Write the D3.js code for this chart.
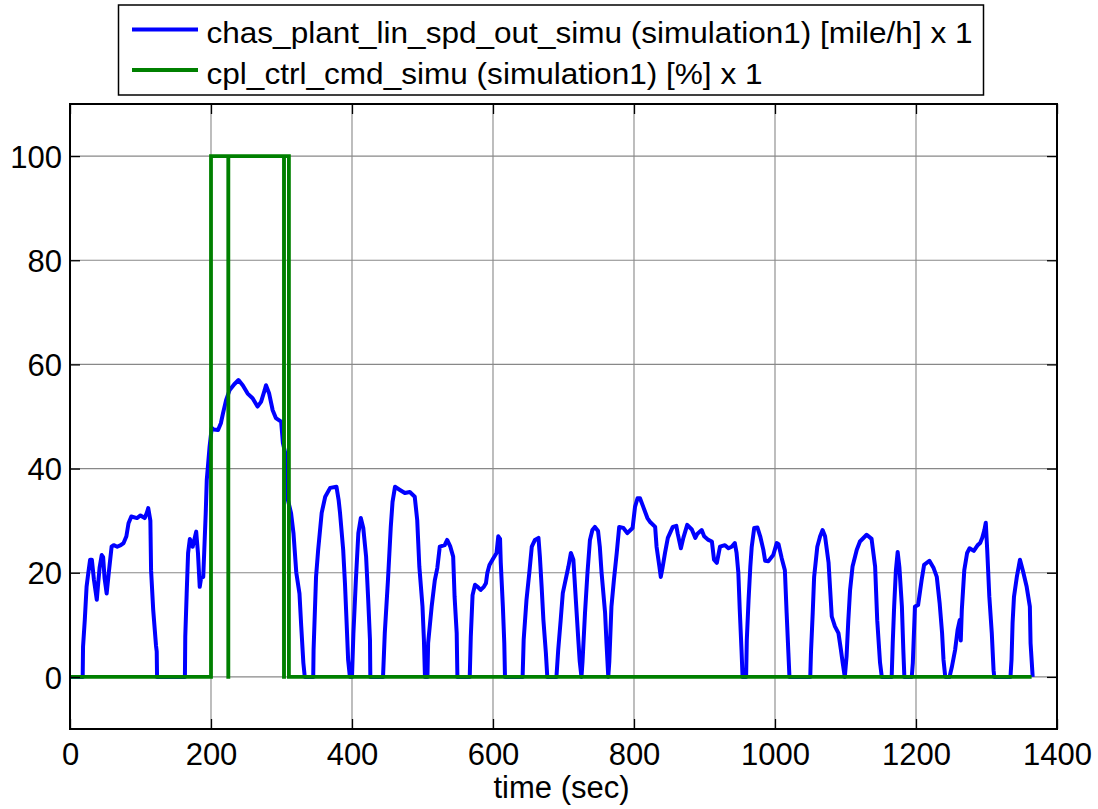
<!DOCTYPE html>
<html>
<head>
<meta charset="utf-8">
<script src="https://cdn.jsdelivr.net/npm/d3@7"></script>
<style>
  html, body { margin: 0; padding: 0; background: #ffffff; }
  svg { display: block; }
  text { font-family: "Liberation Sans", Arial, sans-serif; }
</style>
</head>
<body>
<svg id="chart" width="1098" height="809"></svg>
<script>
// ---- data ----
const xTicks = [0, 200, 400, 600, 800, 1000, 1200, 1400];
const yTicks = [0, 20, 40, 60, 80, 100];
const xLabel = "time (sec)";
const seriesNames = [
  "chas_plant_lin_spd_out_simu (simulation1) [mile/h] x 1",
  "cpl_ctrl_cmd_simu (simulation1) [%] x 1"
];
const seriesColors = ["#0000ff", "#008000"];

// chas_plant_lin_spd_out_simu: [time, value]
const speedData = [
[0,0],[18,0],[18.5,5.8],[21,11],[23.5,17.3],[26,20],[28.5,22.5],[31,22.5],[34,18.6],[38,14.8],[40,18],[42,21],[45,23.4],[47,23],[49,19],[52,16],[55,20],[59,25],[62,25.3],[67,25],[72,25.3],[76,25.7],[80,27],[83,29.5],[87,30.8],[95,30.5],[100,31],[106,30.5],[109,31.5],[111,32.4],[114,30],[115,20.5],[118,12.9],[122,6],[123,4.9],[123.5,0],
[163,0],[163.5,7.7],[165.5,16],[167.5,23.8],[170,26.5],[174,25],[179,27.9],[181.5,23.8],[184,17.3],[186,19],[189,19.2],[190.5,24.4],[192.5,31.4],[194,37.8],[196,41],[198,44.2],[201,47.8],[204,47.5],[210,47.4],[214,48.7],[217,50.6],[221.5,53.2],[226.5,55.1],[233,56.2],[239,57],[245,56],[252,54.4],[259,53.5],[266,51.9],[271,52.8],[276,55],[278,56],[282.5,54.4],[287.5,51.2],[292,49.7],[299.5,49],[302,44.9],[307.5,41.7],[309,34],[313.5,31.5],[317,27.6],[321,20],[325.5,16],[328,9.7],[331,2.7],[333,0],
[345,0],[345.5,5.2],[349,19.2],[352,24.4],[357,31.5],[362,34.6],[369,36.3],[378,36.5],[381,34],[383,31.5],[387.5,24.4],[390,18],[392,11.6],[394.5,3.3],[397,0],
[400,0],[402,8.4],[405.5,18.6],[409,27.6],[412.5,30.5],[416,28.6],[420,23.1],[423,14.8],[425.5,7.1],[426,0],
[444,0],[446.5,8.4],[451,18.6],[455,28.8],[457.5,33.6],[461,36.5],[468,35.9],[475,35.3],[482,35.5],[489,34.6],[492.5,30.1],[495.5,21.2],[500,13.5],[502,7.1],[503.5,0],
[507,0],[508,6.5],[513,13.5],[517.5,18.6],[521,20.9],[524.5,25],[531.5,25.3],[535,26.3],[539.5,25],[543.5,23.1],[545.5,15.4],[548.5,8.4],[549.5,0],
[567,0],[568.5,7.7],[571,15.7],[574.5,17.7],[579,17.2],[582.5,16.7],[587,17.3],[590,18],[592,20],[595,21.5],[600.5,22.8],[605,23.8],[607.5,27],[610,26.5],[611,22],[614,13.5],[616,6.5],[617,0],
[642,0],[643.5,7.1],[647.5,14.8],[651.5,20],[655,25],[659.5,26.3],[664.5,26.7],[666.5,23.1],[669,17.3],[671.5,10.9],[675,4.6],[677,0],
[690,0],[692.5,5.2],[696,10.9],[699,16.1],[702,18],[707,21.2],[710.5,23.8],[714,22.5],[717.5,14.8],[721,7.1],[723,3],[725.5,0],
[727,3],[730.5,12.3],[734,20],[737.5,26.3],[741,28.2],[744.5,28.8],[749,28],[751.5,25],[754,20],[759,12.3],[761,6.5],[763.5,0],
[765,3],[768,13.5],[771.5,18.6],[775.5,23.8],[779,28.8],[785,28.6],[790.5,27.6],[798,28.6],[801.5,32.7],[805,34.3],[808.5,34.3],[813,32.7],[819,30.5],[822.5,29.8],[830,28.8],[832,25],[836,21.2],[838,19.2],[840.5,21],[844,23.8],[848,26.7],[855,28.8],[860,29],[862,27.5],[866.5,24.7],[870,26.7],[875.5,29.2],[882,28.3],[887,26.7],[890,27.5],[896,28.2],[899.5,27],[905.5,26.3],[910.5,26],[913.5,22.5],[917.5,21.9],[922,25],[929,25.3],[934,24.7],[938.5,25],[943,25.7],[945.5,23.8],[948,20],[950,12.9],[952.5,5.2],[954,0],
[959,0],[960,7.1],[962.5,14.8],[965,21.2],[967,25],[970.5,28.6],[975,28.7],[979,27],[983.5,24.4],[986,22.3],[990.5,22.2],[997.5,23.4],[1002.5,25.7],[1005,25.5],[1009.5,22.8],[1014,20.5],[1016.5,12.3],[1019,4.6],[1020.5,0],
[1050,0],[1051,4.6],[1053.5,12.3],[1055.5,19.2],[1060,25],[1064,27],[1067.5,28.2],[1071,27],[1076,21.9],[1078,17.3],[1080.5,11.6],[1085,9.7],[1090,8.4],[1093.5,5.2],[1096,2.7],[1099,0],
[1101.5,3.9],[1104,10.9],[1106.5,16.7],[1110,21.2],[1116,24.4],[1120.5,26],[1130,27.3],[1137,26.5],[1142,21.2],[1145,10.9],[1149,2.7],[1151.5,0],
[1165.5,0],[1167,6.5],[1169,13.5],[1171.5,20.5],[1174,24],[1176.5,21],[1180,13.5],[1182,5.2],[1183.5,0],
[1194,0],[1195.5,2.7],[1198.5,13.5],[1203,13.8],[1208,18.6],[1211.5,21.5],[1219,22.3],[1225,20.9],[1229.5,19.2],[1233.5,14.2],[1237,8.4],[1239,3.3],[1241.5,0],
[1247.5,0],[1251,2],[1255.5,5.2],[1259,9],[1262,10.9],[1263.5,7],[1265,12.9],[1268.5,20.5],[1272.5,23.8],[1276,24.7],[1282,24.2],[1287.5,25.3],[1291,25.7],[1294,26.7],[1297,28.2],[1299,29.6],[1301,24.4],[1304,15.4],[1307.5,8.4],[1310,1.3],[1311,0],
[1334,0],[1335.5,3.3],[1337,10.4],[1339,15.4],[1343,19.2],[1347.5,22.5],[1352,20.2],[1357,17.3],[1361.5,13.5],[1362.5,6.5],[1365.5,0]
];

// cpl_ctrl_cmd_simu: [time, value]
const cmdData = [
[0,0],[200,0],[200,100],[224.5,100],[224.5,0],[224.6,0],[224.6,100],
[303.5,100],[303.5,0],[303.6,0],[303.6,100],[310.5,100],[310.5,0],[1364,0]
];

// ---- layout ----
const W = 1098, H = 809;
const plot = { left: 70, right: 1057, top: 104, bottom: 729 };
const fontSize = 31;

const svg = d3.select("#chart");
svg.append("rect").attr("width", W).attr("height", H).attr("fill", "#ffffff");

const x = d3.scaleLinear().domain([0, 1400]).range([plot.left, plot.right]);
const y = d3.scaleLinear().domain([-10, 110]).range([plot.bottom, plot.top]);

// gridlines
const grid = svg.append("g").attr("class", "grid");
grid.selectAll("line.vx").data(xTicks.filter(t => t > 0 && t < 1400)).enter()
  .append("line")
  .attr("x1", d => x(d)).attr("x2", d => x(d))
  .attr("y1", plot.top).attr("y2", plot.bottom)
  .attr("stroke", "#888888").attr("stroke-width", 1.1);
grid.selectAll("line.hy").data(yTicks).enter()
  .append("line")
  .attr("x1", plot.left).attr("x2", plot.right)
  .attr("y1", d => y(d)).attr("y2", d => y(d))
  .attr("stroke", "#888888").attr("stroke-width", 1.1);

// clip
svg.append("clipPath").attr("id", "clip").append("rect")
  .attr("x", plot.left).attr("y", plot.top)
  .attr("width", plot.right - plot.left).attr("height", plot.bottom - plot.top);

const line = d3.line().x(d => x(d[0])).y(d => y(d[1]));
const lines = svg.append("g").attr("clip-path", "url(#clip)");
lines.append("path").datum(speedData)
  .attr("d", line).attr("fill", "none")
  .attr("stroke", seriesColors[0]).attr("stroke-width", 4)
  .attr("stroke-linejoin", "round");
lines.append("path").datum(cmdData)
  .attr("d", line).attr("fill", "none")
  .attr("stroke", seriesColors[1]).attr("stroke-width", 3.8)
  .attr("stroke-linejoin", "miter");

// axes
const axBottom = d3.axisBottom(x).tickValues(xTicks).tickSize(-10).tickPadding(14).tickFormat(d3.format("d"));
const axTop = d3.axisTop(x).tickValues(xTicks).tickSize(-10).tickFormat("");
const axLeft = d3.axisLeft(y).tickValues(yTicks).tickSize(-10).tickPadding(8).tickFormat(d3.format("d"));
const axRight = d3.axisRight(y).tickValues(yTicks).tickSize(-10).tickFormat("");

function styleAxis(g) {
  g.select(".domain").remove();
  g.selectAll(".tick line").attr("stroke", "#000").attr("stroke-width", 1.3);
  g.selectAll(".tick text").attr("fill", "#000")
    .style("font-family", '"Liberation Sans", Arial, sans-serif')
    .style("font-size", fontSize + "px");
}
svg.append("g").attr("transform", `translate(0,${plot.bottom})`).call(axBottom).call(styleAxis);
svg.append("g").attr("transform", `translate(0,${plot.top})`).call(axTop).call(styleAxis);
svg.append("g").attr("transform", `translate(${plot.left},0)`).call(axLeft).call(styleAxis)
  .selectAll(".tick text").attr("dy", "0.36em");
svg.append("g").attr("transform", `translate(${plot.right},0)`).call(axRight).call(styleAxis);

// axes box
svg.append("rect")
  .attr("x", plot.left).attr("y", plot.top)
  .attr("width", plot.right - plot.left).attr("height", plot.bottom - plot.top)
  .attr("fill", "none").attr("stroke", "#000").attr("stroke-width", 2);

// x label
svg.append("text")
  .attr("x", (plot.left + plot.right) / 2 - 2).attr("y", 798)
  .attr("text-anchor", "middle")
  .style("font-size", fontSize + "px").attr("fill", "#000")
  .text(xLabel);

// legend
const legend = svg.append("g");
legend.append("rect")
  .attr("x", 118.5).attr("y", 5).attr("width", 865).attr("height", 90)
  .attr("fill", "#ffffff").attr("stroke", "#000").attr("stroke-width", 1.5);
const legendRows = [
  { y: 29.5, base: 42.5, len: 766 },
  { y: 70, base: 83.5, len: 556 }
];
legendRows.forEach((r, i) => {
  legend.append("line")
    .attr("x1", 132).attr("x2", 198).attr("y1", r.y).attr("y2", r.y)
    .attr("stroke", seriesColors[i]).attr("stroke-width", 3.8);
  legend.append("text")
    .attr("x", 206.5).attr("y", r.base)
    .attr("textLength", r.len).attr("lengthAdjust", "spacingAndGlyphs")
    .style("font-size", "30px").attr("fill", "#000")
    .text(seriesNames[i]);
});
</script>
</body>
</html>
